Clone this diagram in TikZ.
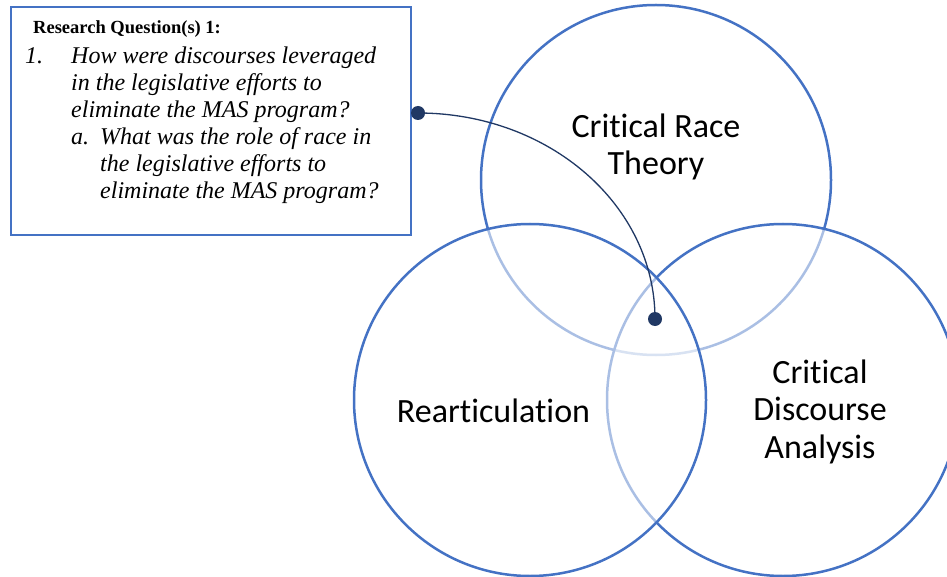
\documentclass[tikz,border=0pt]{standalone}
\usepackage{fontspec}
\setmainfont{Liberation Serif}
\newfontfamily\calibri[RawFeature={-liga;-clig;-dlig}]{Carlito}
\usetikzlibrary{fadings}
\definecolor{cblue}{HTML}{4472C4}
\definecolor{navy}{HTML}{203864}
\pgfdeclareverticalshading{vfadeshade}{100bp}{color(0bp)=(black!45); color(82bp)=(black!45); color(100bp)=(black!100)}
\pgfdeclarefading{vfade}{\pgfuseshading{vfadeshade}}
\begin{document}
\begin{tikzpicture}[x=1pt,y=-1pt,
  ring/.style={draw=cblue, line width=2.5pt},
  veil/.style={fill=white, path fading=vfade},
  lbl/.style={font=\calibri\fontsize{34}{37.5}\selectfont, align=center, inner sep=0pt},
  dotnode/.style={circle, fill=navy, minimum size=14pt, inner sep=0pt}]
\useasboundingbox (0,0) rectangle (947,577);
\coordinate (crt) at (656,180);
\coordinate (rea) at (530,400);
\coordinate (cda) at (783,400);
% circles
\fill[veil] (crt) circle (175);
\draw[ring] (crt) circle (175);
\fill[veil] (cda) circle (176);
\draw[ring] (cda) circle (176);
\fill[veil] (rea) circle (176);
\draw[ring] (rea) circle (176);
% labels
\node[lbl, anchor=north] (crtl) at (656,112) {\rule{0pt}{25pt}Critical Race\\Theory};
\node[lbl, anchor=base] (real) at (493.5,422) {Rearticulation};
\node[lbl, anchor=north] (cdal) at (820,358) {\rule{0pt}{25pt}Critical\\Discourse\\Analysis};
% question box
\node[draw=cblue, line width=2pt, fill=white, minimum width=400pt, minimum height=228pt, anchor=north west, inner sep=0pt] (box) at (10,6) {};
\node[anchor=base west, inner sep=0pt, font=\fontsize{18.5}{20}\selectfont\bfseries] (rqh) at (33,34) {Research Question(s) 1:};
\node[anchor=north west, inner sep=0pt, align=left, font=\fontsize{24}{27}\selectfont\itshape] (rq) at (25,43)
{\rule{0pt}{20pt}\makebox[46pt][l]{1.}How were discourses leveraged\\
\hspace*{46pt}in the legislative efforts to\\
\hspace*{46pt}eliminate the MAS program?\\
\hspace*{46pt}\makebox[29pt][l]{a.}What was the role of race in\\
\hspace*{75pt}the legislative efforts to\\
\hspace*{75pt}eliminate the MAS program?};
% connector
\node[dotnode] (d1) at (418,113) {};
\node[dotnode] (d2) at (655,319) {};
\draw[navy, line width=1.3pt] (d1.center) .. controls (549,113) and (655,205) .. (d2.center);
\end{tikzpicture}
\end{document}
